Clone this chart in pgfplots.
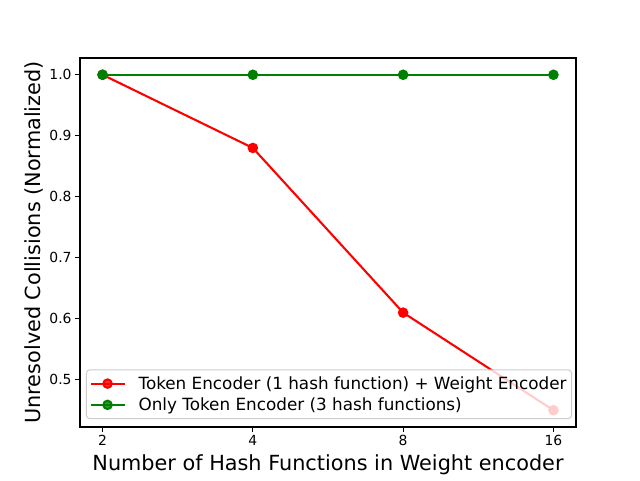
\documentclass[border=0pt]{standalone}
\usepackage{pgfplots}
\pgfplotsset{compat=1.18}
\usepackage{fontspec}
\setmainfont{DejaVu Sans}
\definecolor{mplgreen}{rgb}{0,0.5,0}
\begin{document}
\begin{tikzpicture}[x=1pt,y=1pt]
\path (0,0) rectangle (640,480);
\begin{axis}[
  at={(80pt,53pt)}, anchor=south west,
  scale only axis, width=496pt, height=369pt,
  xmin=-0.15, xmax=3.15, ymin=0.4225, ymax=1.0275,
  xtick={0,1,2,3}, xticklabels={2,4,8,16},
  ytick={0.5,0.6,0.7,0.8,0.9,1.0},
  yticklabel style={/pgf/number format/.cd,fixed,fixed zerofill,precision=1},
  /pgf/number format/assume math mode=true,
  tick align=outside, xtick pos=bottom, ytick pos=left,
  major tick length=4.9pt,
  every tick/.style={black, line width=1.1pt},
  axis line style={line width=1.1pt},
  ticklabel style={font=\fontsize{13.9}{16}\selectfont},
  xlabel={Number of Hash Functions in Weight encoder},
  ylabel={Unresolved Collisions (Normalized)},
  label style={font=\fontsize{20.8}{24}\selectfont},
  xlabel style={yshift=-2pt},
  ylabel style={yshift=-1pt},
  legend cell align=left,
  legend style={at={(6pt,8pt)}, anchor=south west,
    font=\fontsize{16.8}{20}\selectfont,
    fill=white, fill opacity=0.8, text opacity=1, draw opacity=1,
    draw={rgb,255:red,204;green,204;blue,204}, line width=1pt,
    rounded corners=3pt, inner xsep=3pt, inner ysep=4.5pt,
    row sep=3pt},
  legend image code/.code={
    \draw[mark repeat=2,mark phase=2] plot coordinates {(0pt,0pt) (17pt,0pt) (34pt,0pt)};
    \path (45pt,0pt);
  },
]
\addplot[red, line width=2.08pt, mark=*, mark size=4.2pt, mark options={solid}]
  coordinates {(0,1.0) (1,0.88) (2,0.61) (3,0.45)};
\addlegendentry{Token Encoder (1 hash function) + Weight Encoder}
\addplot[mplgreen, line width=2.08pt, mark=*, mark size=4.2pt, mark options={solid}]
  coordinates {(0,1.0) (1,1.0) (2,1.0) (3,1.0)};
\addlegendentry{Only Token Encoder (3 hash functions)}
\end{axis}
\end{tikzpicture}
\end{document}
